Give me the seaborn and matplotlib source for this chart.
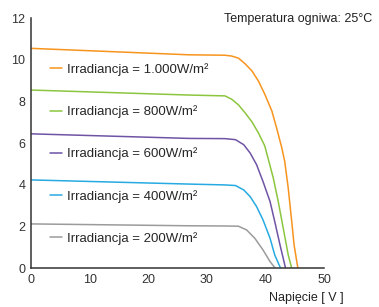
import pandas as pd
import matplotlib
matplotlib.use("Agg")
import matplotlib.pyplot as plt
from matplotlib.ticker import MultipleLocator
import seaborn as sns

# I-V curves (voltage V, current A)
v_1000 = [0, 27, 33.1, 34.25, 35.4, 36.5, 37.7, 38.8, 39.9, 41.1, 41.9, 42.8, 43.3, 43.9, 44.5, 44.9, 45.55]
i_1000 = [10.55, 10.24, 10.22, 10.18, 10.08, 9.82, 9.47, 8.99, 8.35, 7.55, 6.75, 5.78, 5.13, 3.85, 2.24, 1.12, 0]

v_800 = [0, 27, 33.1, 34.25, 35.4, 36.5, 37.7, 38.8, 39.9, 41.35, 42.2, 43.05, 43.9, 44.5]
i_800 = [8.55, 8.31, 8.27, 8.11, 7.84, 7.47, 7.03, 6.5, 5.87, 4.33, 3.2, 1.92, 0.64, 0]

v_600 = [0, 27, 33.1, 34.9, 36.3, 37.4, 38.5, 39.6, 40.8, 41.6, 42.5, 43.45]
i_600 = [6.45, 6.23, 6.22, 6.17, 5.93, 5.53, 4.97, 4.16, 3.2, 2.24, 1.12, 0]

v_400 = [0, 27, 33.1, 34.9, 36.3, 37.4, 38.5, 39.6, 40.8, 41.6, 42.6]
i_400 = [4.24, 4.04, 4.0, 3.97, 3.76, 3.44, 2.96, 2.32, 1.44, 0.64, 0]

v_200 = [0, 27, 33.1, 35.4, 36.8, 38.2, 39.6, 40.8, 41.7]
i_200 = [2.13, 2.04, 2.03, 2.02, 1.84, 1.44, 0.88, 0.32, 0]

labels = ["Irradiancja = 1.000W/m²", "Irradiancja = 800W/m²", "Irradiancja = 600W/m²",
          "Irradiancja = 400W/m²", "Irradiancja = 200W/m²"]
colors = ["#F7941D", "#8CC63F", "#6F54A5", "#27AAE1", "#9B9B9B"]

frames = []
for lab, v, i in zip(labels, [v_1000, v_800, v_600, v_400, v_200],
                     [i_1000, i_800, i_600, i_400, i_200]):
    frames.append(pd.DataFrame({"V": v, "I": i, "irr": lab}))
df = pd.concat(frames, ignore_index=True)

sns.set_style("white")
plt.rcParams["font.family"] = ["Liberation Sans", "DejaVu Sans"]

fig = plt.figure(figsize=(3.79, 3.07), dpi=100)
ax = fig.add_axes([0.0818, 0.126, 0.773, 0.815])

sns.lineplot(data=df, x="V", y="I", hue="irr", hue_order=labels, palette=colors,
             sort=False, estimator=None, linewidth=1.1, ax=ax)

ax.set_xlim(0, 50)
ax.set_ylim(0, 12)
ax.xaxis.set_major_locator(MultipleLocator(10))
ax.xaxis.set_minor_locator(MultipleLocator(5))
ax.yaxis.set_major_locator(MultipleLocator(2))
ax.yaxis.set_minor_locator(MultipleLocator(1))
ax.tick_params(which="both", direction="in", length=4, width=1, color="#333333",
               labelsize=9, labelcolor="#333333", pad=4)
for s in ["top", "right"]:
    ax.spines[s].set_visible(False)
for s in ["left", "bottom"]:
    ax.spines[s].set_color("#333333")
    ax.spines[s].set_linewidth(1.1)
ax.set_xlabel("")
ax.set_ylabel("")

ax.legend(loc="upper left", bbox_to_anchor=(0.065, 0.82), frameon=False,
          fontsize=9.5, handlelength=0.9, handletextpad=0.35, labelspacing=2.23,
          borderpad=0, borderaxespad=0)

fig.text(0.982, 0.938, "Temperatura ogniwa: 25°C", ha="right", va="center",
         fontsize=9, color="#222222")
fig.text(0.907, 0.03, "Napięcie [ V ]", ha="right", va="center",
         fontsize=9, color="#222222")

fig.savefig("out.png", dpi=100)
